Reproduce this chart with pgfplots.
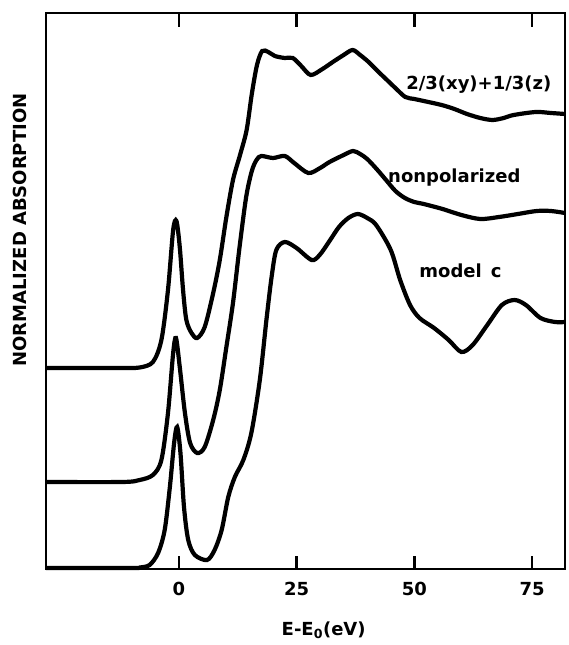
\documentclass[border=0pt]{standalone}
\usepackage{fontspec}
\setmainfont{DejaVu Sans}
\usepackage{pgfplots}
\pgfplotsset{compat=1.18}
\begin{document}
\begin{tikzpicture}
\begin{axis}[
  name=ax,
  scale only axis,
  width=519pt, height=556pt,
  xmin=-28.2, xmax=82, ymin=0, ymax=556,
  axis line style={line width=2.8pt, black},
  xtick={0,25,50,75},
  xticklabels={0,25,50,75},
  ytick=\empty,
  xtick align=inside,
  major tick length=13pt,
  every tick/.style={black, line width=2.6pt},
  xticklabel style={font=\fontsize{18}{22}\selectfont\bfseries, anchor=center, yshift=-20pt},
  xlabel={E-E\textsubscript{0}(eV)},
  xlabel style={at={(0.535,0)}, anchor=center, yshift=-61pt, font=\fontsize{18}{22}\selectfont\bfseries},
  clip=false,
]
% 2/3(xy)+1/3(z) spectrum
\addplot[black, no marks, line width=4.2pt, smooth, tension=0.5] coordinates {
(-28.2,201) (-12,201) (-8.3,201.5) (-5.5,207) (-3.7,229) (-2.3,279) (-1.2,339)
(-0.5,348) (0.2,322) (0.9,279) (1.6,249) (2.7,236) (3.9,231) (5.5,242) (7.3,276)
(8.7,309) (10.1,352) (11.5,389) (13,414) (14.4,439) (15.5,475) (16.6,504) (17.7,518)
(19,517) (20.4,513) (22.5,511) (24.2,511) (26,503) (28,494) (30.5,500) (32.7,507)
(35,514) (36.9,519) (38.5,514) (40.3,507) (42.2,498) (44.2,489) (46.2,480) (48.1,472)
(50,470) (52,468) (55.8,464) (58.5,460) (61.2,455) (64,451) (66.6,449) (69,451)
(71.1,454) (75.8,457) (79,456) (82,455)
};
% nonpolarized spectrum
\addplot[black, no marks, line width=4.2pt, smooth, tension=0.5] coordinates {
(-28.2,87) (-12,87) (-8.3,89) (-5.5,94) (-3.7,109) (-2.3,156) (-1.2,216) (-0.6,231)
(0.2,202) (1.3,156) (2.4,126) (3.9,116) (5.5,122) (7.3,149) (8.7,179) (10.1,222)
(11.5,266) (12.9,322) (14.3,372) (15.5,398) (16.5,409) (17.5,413) (20,411) (22.5,413)
(24.5,406) (27.5,396) (30,401) (32,407) (35,414) (37,418) (38.5,415) (40,410) (42,400)
(44,389) (46,378) (48,371) (50,367) (52,365) (56,360) (60,354) (64,350) (68,352)
(72,355) (76,358) (79,358) (82,356)
};
% model c
\addplot[black, no marks, line width=4.2pt, smooth, tension=0.5] coordinates {
(-28.2,1) (-10,1) (-8.3,1.5) (-6.2,4) (-4.4,16) (-3,39) (-1.9,82) (-1,126) (-0.35,142)
(0.35,116) (1.1,62) (2,29) (3.4,14) (6,9) (7.6,19) (9.1,39) (10.5,72) (11.9,92)
(13.7,109) (15.4,136) (17.2,189) (18.6,249) (19.7,292) (20.7,319) (22.5,327) (25,321)
(28.2,309) (29.9,314) (32,328) (34,342) (36,351) (38,355) (40,351) (41.9,344) (45,319)
(47,289) (49.1,264) (51.1,251) (54.2,241) (57.3,229) (60,217) (62.4,224) (65.5,244)
(68.6,264) (71.3,269) (73.7,264) (76.8,251) (79.9,247) (82,247)
};
\node[font=\fontsize{18}{22}\selectfont\bfseries] at (axis cs:63.7,484) {2/3(xy)+1/3(z)};
\node[font=\fontsize{18}{22}\selectfont\bfseries] at (axis cs:58.5,391) {nonpolarized};
\node[font=\fontsize{18}{22}\selectfont\bfseries] at (axis cs:59.8,298) {model\enspace c};
\end{axis}
% frame and inward ticks, drawn over the plot area
\draw[line width=2.8pt, black] (ax.south west) rectangle (ax.north east);
\foreach \t in {132.8,250.6,368.3,486.1} {
  \draw[line width=2.6pt, black] ([xshift=\t pt]ax.south west) -- ++(0,13pt);
  \draw[line width=2.6pt, black] ([xshift=\t pt]ax.north west) -- ++(0,-14pt);
}
% vertical axis title
\node[rotate=90, anchor=center, font=\fontsize{18}{22}\selectfont\bfseries]
  at ([xshift=-26pt, yshift=339pt]ax.south west) {NORMALIZED ABSORPTION};
\pgfresetboundingbox
\path ([xshift=-46pt,yshift=-76pt]ax.south west) rectangle ([xshift=3pt,yshift=13pt]ax.north east);
\end{tikzpicture}
\end{document}
